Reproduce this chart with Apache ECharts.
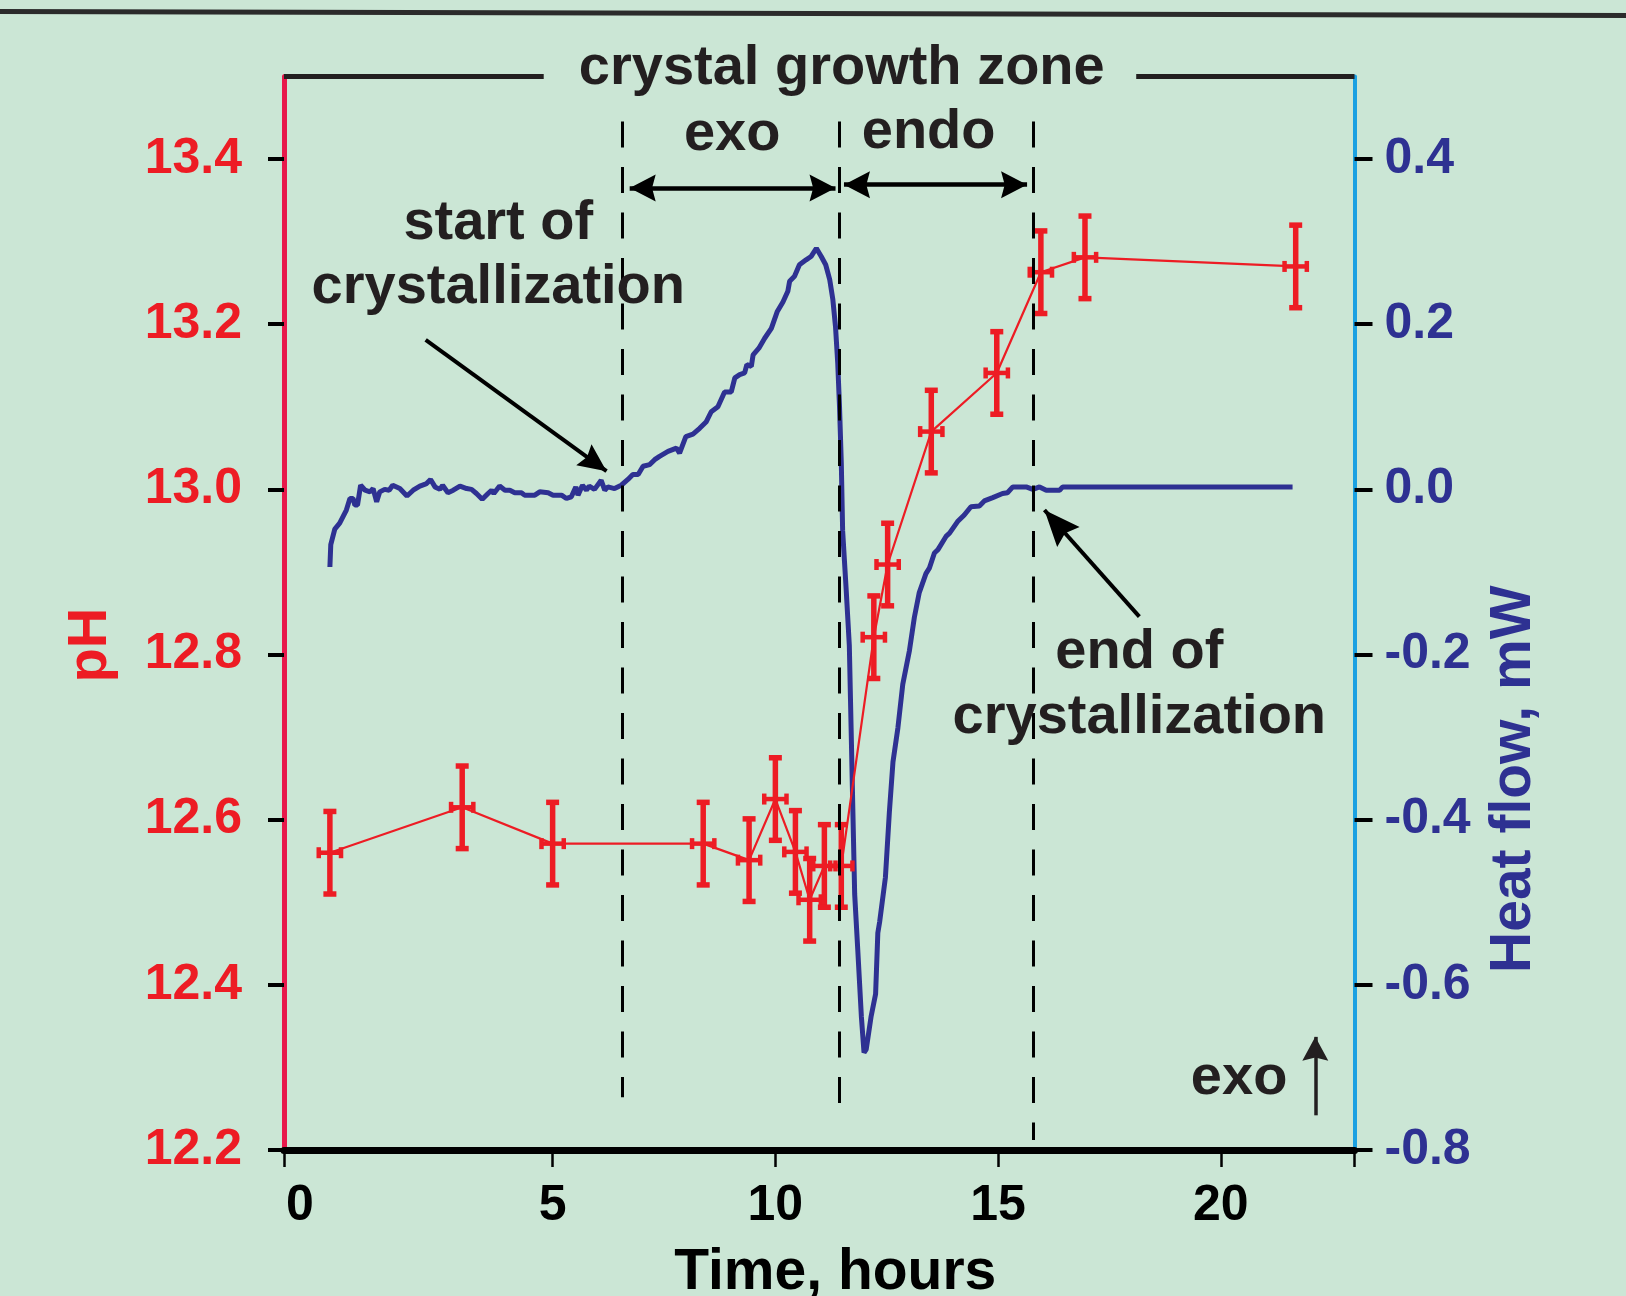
<!DOCTYPE html>
<html>
<head>
<meta charset="utf-8">
<title>pH and heat flow during crystallization</title>
<script src="https://cdn.jsdelivr.net/npm/echarts@6.0.0/dist/echarts.min.js"></script>
<style>
  html, body { margin: 0; padding: 0; background: #cbe6d5; }
  #chart { width: 1626px; height: 1296px; }
</style>
</head>
<body>
<div id="chart"></div>
<script>
  // pH samples (left axis), with vertical and time error bars
  const phTime = [0.0, 2.97, 5.0, 8.38, 9.41, 10.0, 10.45, 10.77, 11.1, 11.48, 12.21, 12.52, 13.5, 14.97, 15.96, 16.95, 21.68]
  const phValue = [12.56, 12.615, 12.571, 12.571, 12.551, 12.625, 12.561, 12.503, 12.544, 12.544, 12.821, 12.909, 13.07, 13.141, 13.263, 13.281, 13.27]
  const phError = [0.05, 0.05, 0.05, 0.05, 0.05, 0.05, 0.05, 0.05, 0.05, 0.05, 0.05, 0.05, 0.05, 0.05, 0.05, 0.05, 0.05]
  const timeError = [0.25, 0.25, 0.25, 0.25, 0.25, 0.25, 0.25, 0.25, 0.25, 0.25, 0.25, 0.25, 0.25, 0.25, 0.25, 0.25, 0.25]

  // heat flow trace (right axis)
  const heatTime = [
    0.0, 0.02, 0.11, 0.22, 0.37, 0.45, 0.52, 0.56, 0.62, 0.69,
    0.79, 0.9, 0.97, 1.05, 1.12, 1.23, 1.33, 1.41, 1.57, 1.73,
    1.87, 2.02, 2.17, 2.26, 2.36, 2.47, 2.53, 2.65, 2.77, 2.92,
    3.07, 3.18, 3.29, 3.42, 3.55, 3.63, 3.68, 3.81, 3.93, 4.04,
    4.15, 4.3, 4.37, 4.6, 4.71, 4.9, 5.01, 5.2, 5.31, 5.42,
    5.52, 5.57, 5.67, 5.76, 5.82, 5.94, 6.09, 6.17, 6.24, 6.39,
    6.43, 6.54, 6.69, 6.8, 6.92, 7.03, 7.18, 7.29, 7.4, 7.59,
    7.78, 7.85, 7.99, 8.15, 8.3, 8.45, 8.56, 8.71, 8.86, 9.01,
    9.09, 9.2, 9.31, 9.36, 9.46, 9.5, 9.63, 9.76, 9.91, 10.04,
    10.17, 10.28, 10.32, 10.43, 10.54, 10.69, 10.8, 10.92, 11.03, 11.13,
    11.22, 11.29, 11.35, 11.4, 11.44, 11.48, 11.51, 11.59, 11.66, 11.7,
    11.74, 11.78, 11.85, 11.93, 11.99, 12.04, 12.15, 12.25, 12.3, 12.34,
    12.47, 12.56, 12.64, 12.75, 12.86, 13.01, 13.12, 13.23, 13.38, 13.46,
    13.57, 13.65, 13.83, 13.91, 14.09, 14.24, 14.39, 14.58, 14.69, 14.88,
    15.1, 15.21, 15.33, 15.63, 15.78, 15.93, 16.08, 16.38, 16.45, 21.61
  ]
  const heatFlow = [
    -0.094, -0.067, -0.048, -0.041, -0.025, -0.011, -0.011, -0.019, -0.019, 0.005,
    -0.001, -0.003, 0.001, -0.015, -0.003, 0.0, -0.001, 0.005, 0.001, -0.008,
    -0.001, 0.004, 0.007, 0.012, 0.003, 0.0, 0.005, -0.004, -0.001, 0.004,
    0.001, 0.0, -0.005, -0.012, -0.005, -0.001, -0.005, 0.004, -0.001, -0.001,
    -0.004, -0.004, -0.007, -0.007, -0.003, -0.004, -0.007, -0.007, -0.011, -0.009,
    0.003, -0.007, 0.005, -0.001, 0.004, 0.0, 0.011, -0.001, 0.003, 0.001,
    -0.001, 0.005, 0.012, 0.018, 0.018, 0.028, 0.03, 0.036, 0.04, 0.046,
    0.05, 0.044, 0.064, 0.067, 0.074, 0.082, 0.094, 0.1, 0.118, 0.118,
    0.135, 0.139, 0.141, 0.151, 0.149, 0.163, 0.171, 0.183, 0.195, 0.215,
    0.227, 0.24, 0.252, 0.258, 0.272, 0.278, 0.282, 0.292, 0.282, 0.272,
    0.254, 0.23, 0.197, 0.153, 0.1, 0.032, -0.05, -0.122, -0.189, -0.289,
    -0.39, -0.49, -0.558, -0.638, -0.682, -0.678, -0.638, -0.611, -0.537, -0.524,
    -0.47, -0.39, -0.33, -0.289, -0.236, -0.195, -0.155, -0.125, -0.102, -0.095,
    -0.077, -0.073, -0.057, -0.053, -0.039, -0.031, -0.021, -0.02, -0.014, -0.01,
    -0.005, -0.004, 0.003, 0.003, 0.0, 0.003, -0.001, -0.001, 0.003, 0.003
  ]

  const timeTicks = [0, 5, 10, 15, 20]
  const phTicks = [12.2, 12.4, 12.6, 12.8, 13.0, 13.2, 13.4]
  const heatTicks = [-0.8, -0.6, -0.4, -0.2, 0.0, 0.2, 0.4]

  const RED = '#ed1c24'
  const BLUE = '#2e3192'
  const INK = '#231f20'
  const NARROW = "'Liberation Sans Narrow', 'Arial Narrow', 'Liberation Sans', sans-serif"
  const SANS = "'Liberation Sans', Arial, sans-serif"
  const HEAD = 'path://M50,0 L100,100 L50,86 L0,100 Z'
  const TICK_FONT = 50

  let chart = echarts.init(document.getElementById('chart'))

  // vertical pH error bar + short time bar, both capped
  function errorBars(params, api) {
    let t = api.value(0)
    let v = api.value(1)
    let dv = api.value(2)
    let dt = api.value(3)
    let top = api.coord([t, v + dv])
    let bottom = api.coord([t, v - dv])
    let left = api.coord([t - dt, v])
    let right = api.coord([t + dt, v])
    let thick = { stroke: RED, lineWidth: 5.5 }
    let thin = { stroke: RED, lineWidth: 4.5 }
    return {
      type: 'group',
      children: [
        { type: 'line', shape: { x1: top[0], y1: top[1], x2: bottom[0], y2: bottom[1] }, style: thick },
        { type: 'line', shape: { x1: top[0] - 6.5, y1: top[1], x2: top[0] + 6.5, y2: top[1] }, style: thick },
        { type: 'line', shape: { x1: bottom[0] - 6.5, y1: bottom[1], x2: bottom[0] + 6.5, y2: bottom[1] }, style: thick },
        { type: 'line', shape: { x1: left[0], y1: left[1], x2: right[0], y2: right[1] }, style: thin },
        { type: 'line', shape: { x1: left[0], y1: left[1] - 5.5, x2: left[0], y2: left[1] + 5.5 }, style: thin },
        { type: 'line', shape: { x1: right[0], y1: right[1] - 5.5, x2: right[0], y2: right[1] + 5.5 }, style: thin }
      ]
    }
  }

  function arrowEnd(coord, size) {
    return { coord: coord, symbol: HEAD, symbolSize: size, symbolOffset: [0, size[1] / 2] }
  }

  let frame = { color: INK, width: 5, type: 'solid' }
  let dash = { color: '#000', width: 3, type: [26, 19.5], dashOffset: 26.8 }
  let pointer = { color: '#000', width: 4.5, type: 'solid' }
  let callout = { color: '#000', width: 4, type: 'solid' }

  let option = {
    backgroundColor: '#cbe6d5',
    animation: false,
    grid: {
      left: 284,
      top: 76.5,
      right: 271.5,
      bottom: 146,
      containLabel: false,
      outerBoundsMode: 'none'
    },
    graphic: [{
      type: 'line',
      silent: true,
      shape: { x1: 0, y1: 11.5, x2: 1626, y2: 15.5 },
      style: { stroke: '#2b2b2b', lineWidth: 5 }
    }],
    xAxis: {
      type: 'value',
      min: -1.03,
      max: 23,
      splitLine: { show: false },
      axisLine: { show: true, onZero: false, lineStyle: { color: '#000', width: 7 } },
      axisTick: {
        show: true,
        length: 17,
        customValues: [-1.03, 5, 10, 15, 20, 23],
        lineStyle: { color: '#000', width: 2.5 }
      },
      axisLabel: {
        customValues: timeTicks,
        margin: 31,
        color: '#000',
        fontFamily: NARROW,
        fontWeight: 'bold',
        fontSize: TICK_FONT,
        formatter: function(v) {
          return v === 0 ? '{z|0}' : String(v)
        },
        rich: {
          z: { padding: [0, 60, 0, 0], color: '#000', fontFamily: NARROW, fontWeight: 'bold', fontSize: TICK_FONT }
        }
      },
      name: 'Time, hours',
      nameLocation: 'middle',
      nameGap: 95,
      nameTextStyle: { color: '#000', fontFamily: SANS, fontWeight: 'bold', fontSize: 57, padding: [0, 0, 0, 32] }
    },
    yAxis: [
      {
        type: 'value',
        position: 'left',
        min: 12.2,
        max: 13.5,
        splitLine: { show: false },
        axisLine: { show: true, onZero: false, lineStyle: { color: '#e8184b', width: 5 } },
        axisTick: { show: true, length: 16, customValues: phTicks, lineStyle: { color: '#000', width: 4 } },
        axisLabel: {
          customValues: phTicks,
          margin: 42,
          color: RED,
          fontFamily: NARROW,
          fontWeight: 'bold',
          fontSize: TICK_FONT,
          formatter: function(v) { return v.toFixed(1) }
        },
        name: 'pH',
        nameLocation: 'middle',
        nameRotate: 90,
        nameGap: 165,
        nameTextStyle: { color: RED, fontFamily: SANS, fontWeight: 'bold', fontSize: 56, padding: [0, 64, 0, 0] }
      },
      {
        type: 'value',
        position: 'right',
        min: -0.8,
        max: 0.5,
        splitLine: { show: false },
        axisLine: { show: true, onZero: false, lineStyle: { color: '#1ba1e2', width: 4 } },
        axisTick: { show: true, length: 18, customValues: heatTicks, lineStyle: { color: '#000', width: 4 } },
        axisLabel: {
          customValues: heatTicks,
          margin: 30,
          color: BLUE,
          fontFamily: NARROW,
          fontWeight: 'bold',
          fontSize: TICK_FONT,
          formatter: function(v) { return v.toFixed(1) }
        },
        name: 'Heat flow, mW',
        nameLocation: 'middle',
        nameRotate: 90,
        nameGap: 131,
        nameTextStyle: { color: BLUE, fontFamily: SANS, fontWeight: 'bold', fontSize: 57, padding: [0, 332, 0, 0] }
      }
    ],
    series: [
      {
        type: 'line',
        name: 'Heat flow',
        yAxisIndex: 1,
        data: heatTime.map((t, i) => [t, heatFlow[i]]),
        symbol: 'none',
        lineStyle: { color: BLUE, width: 5 },
        z: 2
      },
      {
        type: 'line',
        name: 'pH',
        yAxisIndex: 0,
        clip: false,
        data: phTime.map((t, i) => [t, phValue[i]]),
        symbol: 'none',
        lineStyle: { color: RED, width: 2.2 },
        z: 3,
        markLine: {
          silent: true,
          animation: false,
          symbol: 'none',
          label: { show: false },
          lineStyle: { type: 'solid', color: '#000' },
          data: [
            // frame line broken by the zone title
            [{ coord: [-1.03, 13.5], lineStyle: frame }, { coord: [4.8, 13.5] }],
            [{ coord: [18.1, 13.5], lineStyle: frame }, { coord: [23, 13.5] }],
            // start, exo/endo boundary, end
            [{ coord: [6.56, 13.468], lineStyle: dash }, { coord: [6.56, 12.264] }],
            [{ coord: [11.43, 13.468], lineStyle: dash }, { coord: [11.43, 12.242] }],
            [{ coord: [15.78, 13.468], lineStyle: dash }, { coord: [15.78, 12.212] }],
            // exo and endo spans
            [Object.assign(arrowEnd([6.73, 13.365], [27, 26]), { lineStyle: pointer }), arrowEnd([11.35, 13.365], [27, 26])],
            [Object.assign(arrowEnd([11.54, 13.369], [27, 26]), { lineStyle: pointer }), arrowEnd([15.65, 13.369], [27, 26])],
            // callout arrows
            [{ coord: [2.15, 13.181], lineStyle: callout }, arrowEnd([6.21, 13.022], [26, 28])],
            [{ coord: [18.17, 12.846], lineStyle: callout }, arrowEnd([16.04, 12.975], [30, 36])],
            [{ coord: [22.12, 12.242], lineStyle: { color: INK, width: 3.5, type: 'solid' } }, arrowEnd([22.12, 12.337], [26, 24])]
          ]
        },
        markPoint: {
          silent: true,
          animation: false,
          symbol: 'circle',
          symbolSize: 1,
          itemStyle: { color: 'rgba(0,0,0,0)' },
          label: {
            show: true,
            position: 'inside',
            formatter: '{b}',
            color: INK,
            fontFamily: SANS,
            fontWeight: 'bold',
            fontSize: 56,
            lineHeight: 64
          },
          data: [
            { name: 'crystal growth zone', coord: [11.49, 13.49], label: { offset: [0, -16] } },
            { name: 'exo', coord: [9.03, 13.43] },
            { name: 'endo', coord: [13.44, 13.432] },
            { name: 'start of\ncrystallization', coord: [3.78, 13.283] },
            { name: 'end of\ncrystallization', coord: [18.17, 12.763], label: { lineHeight: 65 } },
            { name: 'exo', coord: [20.41, 12.286] }
          ]
        }
      },
      {
        type: 'custom',
        name: 'pH error',
        yAxisIndex: 0,
        renderItem: errorBars,
        encode: { x: 0, y: 1 },
        data: phTime.map((t, i) => [t, phValue[i], phError[i], timeError[i]]),
        z: 4
      }
    ]
  }

  chart.setOption(option)
</script>
</body>
</html>
